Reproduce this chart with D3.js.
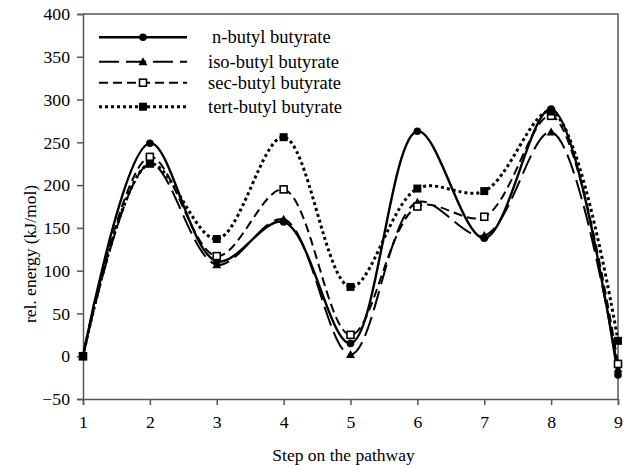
<!DOCTYPE html>
<html>
<head>
<meta charset="utf-8">
<script src="https://cdn.jsdelivr.net/npm/d3@7"></script>
<style>
  body { margin: 0; background: #fff; }
  svg text { font-family: 'Liberation Serif', 'Times New Roman', serif; fill: #000; }
</style>
</head>
<body>
<svg id="chart"></svg>
<script>
var steps = [1, 2, 3, 4, 5, 6, 7, 8, 9];
var nButyl   = [0, 249, 111, 157, 15, 263, 138, 289, -22];
var isoButyl = [0, 225, 107, 160, 2, 180, 141, 262, -15];
var secButyl = [0, 233, 117, 195, 25, 175, 163, 281, -9];
var tertButyl = [0, 225, 137, 256, 81, 196, 193, 286, 18];
var yTicks = [-50, 0, 50, 100, 150, 200, 250, 300, 350, 400];

var series = [
  { name: 'n-butyl butyrate', values: nButyl, dash: null, width: 2.4, marker: 'circle' },
  { name: 'iso-butyl butyrate', values: isoButyl, dash: '20,7', width: 2, marker: 'triangle' },
  { name: 'sec-butyl butyrate', values: secButyl, dash: '9,5', width: 2, marker: 'hollowSquare' },
  { name: 'tert-butyl butyrate', values: tertButyl, dash: '3,3', width: 3, marker: 'square' }
];

var W = 623, H = 466;
var margin = { top: 14, left: 83, bottom: 67, right: 5 },
    width = W - margin.left - margin.right,
    height = H - margin.top - margin.bottom;

var svg = d3.select('#chart')
    .attr('width', W)
    .attr('height', H)
  .append('g')
    .attr('transform', 'translate(' + margin.left + ',' + margin.top + ')');

var x = d3.scaleLinear().domain([1, 9]).range([0, width]);
var y = d3.scaleLinear().domain([-50, 400]).range([height, 0]);

// frame top / right
svg.append('path')
    .attr('d', 'M0,0H' + width + 'V' + height)
    .attr('fill', 'none')
    .attr('stroke', '#555')
    .attr('stroke-width', 1.5);

var xAxis = d3.axisBottom(x).tickValues(steps).tickSize(6).tickPadding(10).tickFormat(d3.format('d'));
var yAxis = d3.axisLeft(y).tickValues(yTicks).tickSize(6).tickPadding(7);

var gx = svg.append('g')
    .attr('transform', 'translate(0,' + height + ')')
    .call(xAxis);
var gy = svg.append('g').call(yAxis);

[gx, gy].forEach(function (g) {
  g.select('.domain').attr('stroke', '#555').attr('stroke-width', 1.5);
  g.selectAll('.tick line').attr('stroke', '#555').attr('stroke-width', 1.5);
  g.selectAll('.tick text').style('font-size', '17.7px')
    .style('font-family', "'Liberation Serif', serif").attr('fill', '#000');
});

svg.append('text')
    .attr('x', width / 2 - 7)
    .attr('y', height + 62)
    .attr('text-anchor', 'middle')
    .style('font-size', '17.5px')
    .text('Step on the pathway');

svg.append('text')
    .attr('transform', 'rotate(-90)')
    .attr('x', -240)
    .attr('y', -47)
    .attr('text-anchor', 'middle')
    .style('font-size', '17.5px')
    .text('rel. energy (kJ/mol)');

var line = d3.line()
    .x(function (d, i) { return x(steps[i]); })
    .y(function (d) { return y(d); })
    .curve(d3.curveCatmullRom.alpha(0.5));

function drawMarker(g, type, cx, cy) {
  if (type === 'circle') {
    g.append('circle').attr('cx', cx).attr('cy', cy).attr('r', 3.8).attr('fill', '#000');
  } else if (type === 'triangle') {
    g.append('path')
      .attr('d', 'M' + cx + ',' + (cy - 4.5) + 'L' + (cx + 4.5) + ',' + (cy + 3.5) + 'L' + (cx - 4.5) + ',' + (cy + 3.5) + 'Z')
      .attr('fill', '#000');
  } else if (type === 'hollowSquare') {
    g.append('rect').attr('x', cx - 3.5).attr('y', cy - 3.5).attr('width', 7).attr('height', 7)
      .attr('fill', '#fff').attr('stroke', '#000').attr('stroke-width', 1.6);
  } else {
    g.append('rect').attr('x', cx - 4).attr('y', cy - 4).attr('width', 8).attr('height', 8).attr('fill', '#000');
  }
}

series.forEach(function (s) {
  var g = svg.append('g');
  g.append('path')
    .datum(s.values)
    .attr('d', line)
    .attr('fill', 'none')
    .attr('stroke', '#000')
    .attr('stroke-width', s.width)
    .attr('stroke-dasharray', s.dash);
});

series.forEach(function (s) {
  var g = svg.append('g');
  s.values.forEach(function (v, i) {
    drawMarker(g, s.marker, x(steps[i]), y(v));
  });
});

// legend
var legendRows = [23.3, 47.7, 68.7, 92.7];
var legend = svg.append('g').attr('transform', 'translate(16,0)');
series.forEach(function (s, i) {
  var row = legend.append('g').attr('transform', 'translate(0,' + legendRows[i] + ')');
  row.append('line')
    .attr('x1', 0).attr('x2', 88)
    .attr('stroke', '#000')
    .attr('stroke-width', s.width)
    .attr('stroke-dasharray', s.dash);
  drawMarker(row, s.marker, 44, 0);
  row.append('text')
    .attr('x', i === 0 ? 113 : 109)
    .attr('y', 6)
    .style('font-size', '18.5px')
    .text(s.name);
});
</script>
</body>
</html>
